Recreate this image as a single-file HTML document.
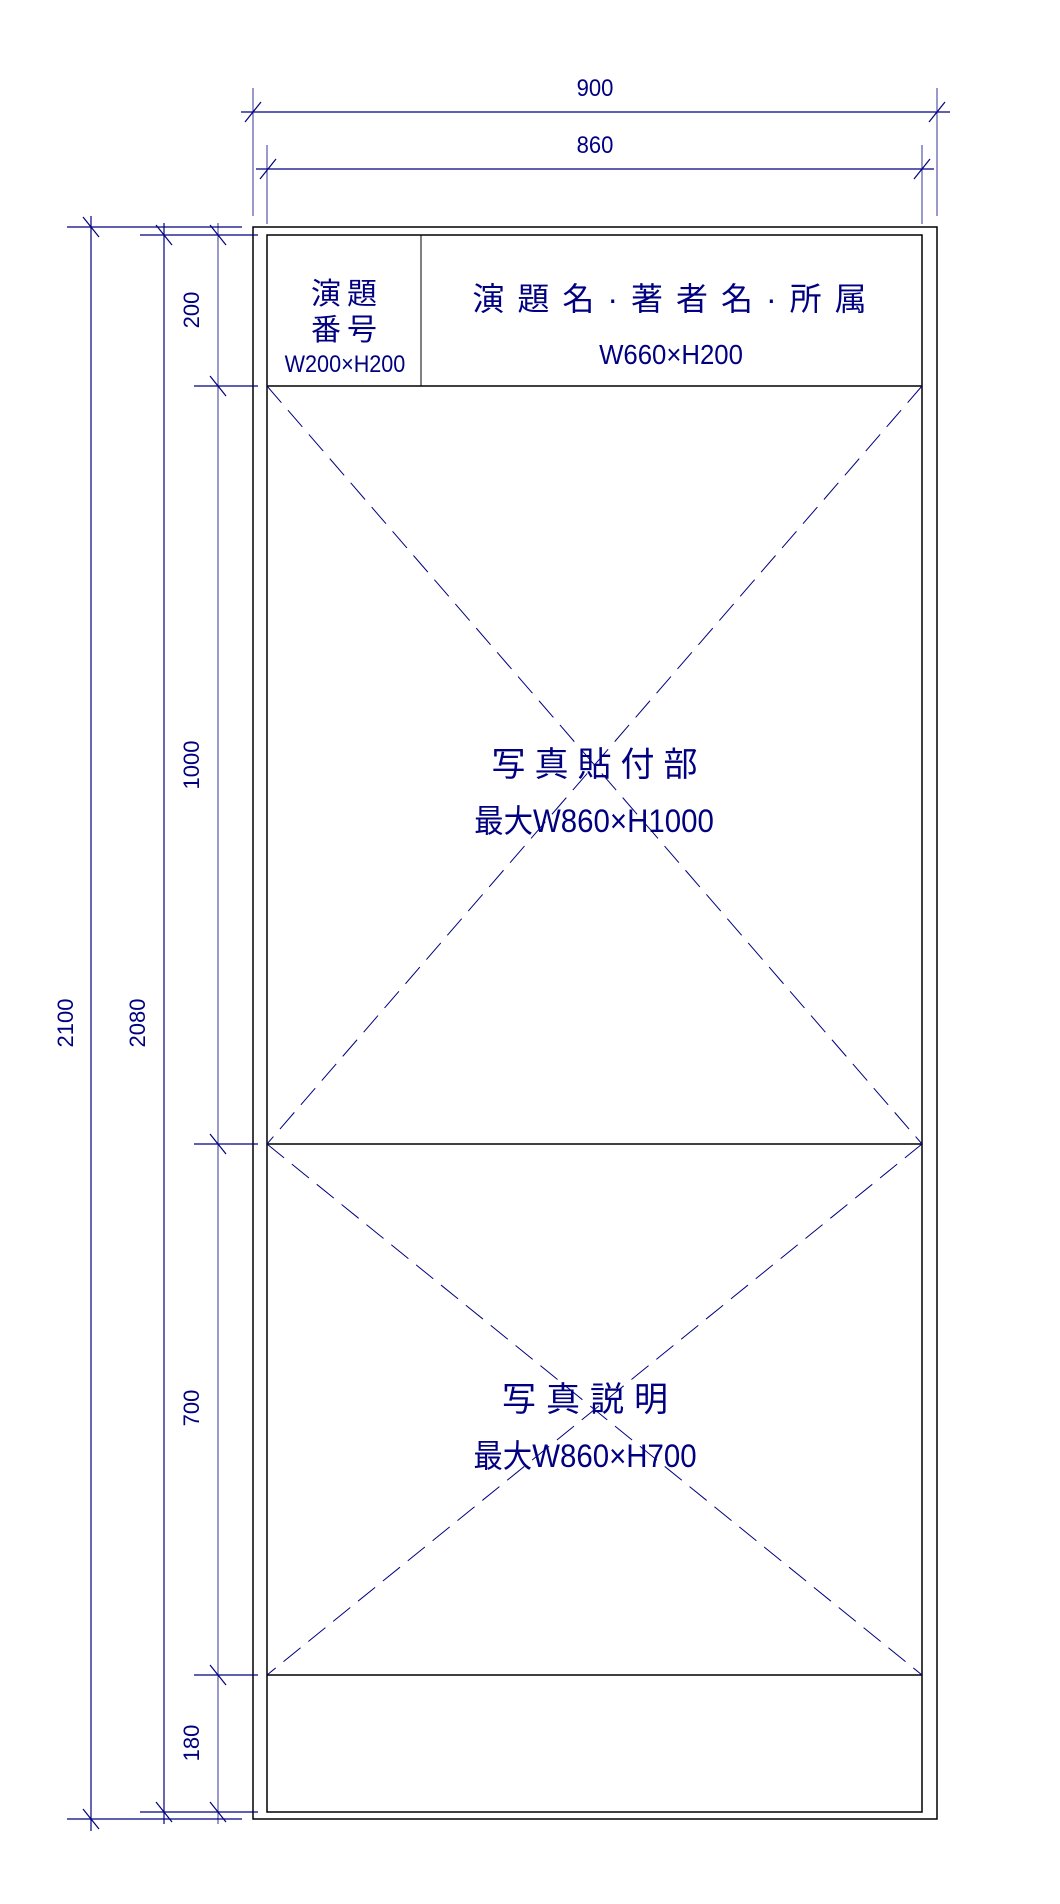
<!DOCTYPE html>
<html><head><meta charset="utf-8"><style>
html,body{margin:0;padding:0;background:#fff;}
svg{display:block;}
text{font-family:"Liberation Sans","Noto Sans CJK JP",sans-serif;fill:#000080;}
</style></head><body>
<svg width="1060" height="1904" viewBox="0 0 1060 1904" xmlns="http://www.w3.org/2000/svg">
<rect x="253" y="227" width="684" height="1592" fill="none" stroke="#000" stroke-width="1.5"/>
<rect x="267" y="235" width="655" height="1577" fill="none" stroke="#000" stroke-width="1.5"/>
<line x1="267" y1="386" x2="922" y2="386" stroke="#000" stroke-width="1.5"/>
<line x1="267" y1="1144" x2="922" y2="1144" stroke="#000" stroke-width="1.5"/>
<line x1="267" y1="1675" x2="922" y2="1675" stroke="#000" stroke-width="1.5"/>
<line x1="421" y1="235" x2="421" y2="386" stroke="#000" stroke-width="1"/>
<g stroke="#000080" stroke-width="1" stroke-dasharray="22,10" fill="none">
<line x1="267" y1="386" x2="922" y2="1144"/>
<line x1="922" y1="386" x2="267" y2="1144"/>
<line x1="267" y1="1144" x2="922" y2="1675"/>
<line x1="922" y1="1144" x2="267" y2="1675"/>
</g>
<g stroke="#000080" stroke-width="1.2">
<line x1="241" y1="112" x2="950" y2="112"/>
<line x1="253" y1="88" x2="253" y2="216" stroke-width="0.8"/>
<line x1="937" y1="88" x2="937" y2="216" stroke-width="0.8"/>
<line x1="245" y1="122" x2="261" y2="102"/>
<line x1="929" y1="122" x2="945" y2="102"/>
<line x1="256" y1="169" x2="934" y2="169"/>
<line x1="267" y1="145" x2="267" y2="224" stroke-width="0.8"/>
<line x1="922" y1="145" x2="922" y2="224" stroke-width="0.8"/>
<line x1="260" y1="179" x2="276" y2="159"/>
<line x1="914" y1="179" x2="930" y2="159"/>
</g>
<text x="595" y="96" font-size="24" text-anchor="middle" transform="translate(595 0) scale(0.92 1) translate(-595 0)">900</text>
<text x="595" y="153" font-size="24" text-anchor="middle" transform="translate(595 0) scale(0.92 1) translate(-595 0)">860</text>
<g stroke="#000080" stroke-width="1.2">
<line x1="91" y1="216" x2="91" y2="1831"/>
<line x1="67" y1="227" x2="242" y2="227"/>
<line x1="67" y1="1819" x2="242" y2="1819"/>
<line x1="83" y1="217" x2="99" y2="237"/>
<line x1="83" y1="1809" x2="99" y2="1829"/>
<line x1="164" y1="223" x2="164" y2="1824"/>
<line x1="140" y1="235" x2="258" y2="235"/>
<line x1="140" y1="1812" x2="258" y2="1812"/>
<line x1="156" y1="225" x2="172" y2="245"/>
<line x1="156" y1="1802" x2="172" y2="1822"/>
<line x1="218" y1="223" x2="218" y2="1824" stroke-width="0.8"/>
<line x1="194" y1="386" x2="258" y2="386"/>
<line x1="194" y1="1144" x2="258" y2="1144"/>
<line x1="194" y1="1675" x2="258" y2="1675"/>
<line x1="210" y1="225" x2="226" y2="245"/>
<line x1="210" y1="376" x2="226" y2="396"/>
<line x1="210" y1="1134" x2="226" y2="1154"/>
<line x1="210" y1="1665" x2="226" y2="1685"/>
<line x1="210" y1="1802" x2="226" y2="1822"/>
</g>
<g font-size="22" text-anchor="middle">
<text transform="translate(73 1023) rotate(-90)">2100</text>
<text transform="translate(145 1023) rotate(-90)">2080</text>
<text transform="translate(199 310) rotate(-90)">200</text>
<text transform="translate(199 765) rotate(-90)">1000</text>
<text transform="translate(199 1408) rotate(-90)">700</text>
<text transform="translate(199 1743) rotate(-90)">180</text>
</g>
<g text-anchor="middle">
<text x="347" y="304" font-size="30" letter-spacing="6">演題</text>
<text x="347" y="340" font-size="30" letter-spacing="6">番号</text>
<text x="345" y="372" font-size="24" transform="translate(345 0) scale(0.9 1) translate(-345 0)">W200×H200</text>
<text x="676" y="310" font-size="32" letter-spacing="13">演題名·著者名·所属</text>
<text x="671" y="364" font-size="28" transform="translate(671 0) scale(0.92 1) translate(-671 0)">W660×H200</text>
<text x="599" y="776" font-size="34" letter-spacing="9">写真貼付部</text>
<text x="594" y="832" font-size="32" transform="translate(594 0) scale(0.92 1) translate(-594 0)">最大W860×H1000</text>
<text x="590" y="1411" font-size="34" letter-spacing="10">写真説明</text>
<text x="585" y="1467" font-size="32" transform="translate(585 0) scale(0.92 1) translate(-585 0)">最大W860×H700</text>
</g>
</svg>
</body></html>
